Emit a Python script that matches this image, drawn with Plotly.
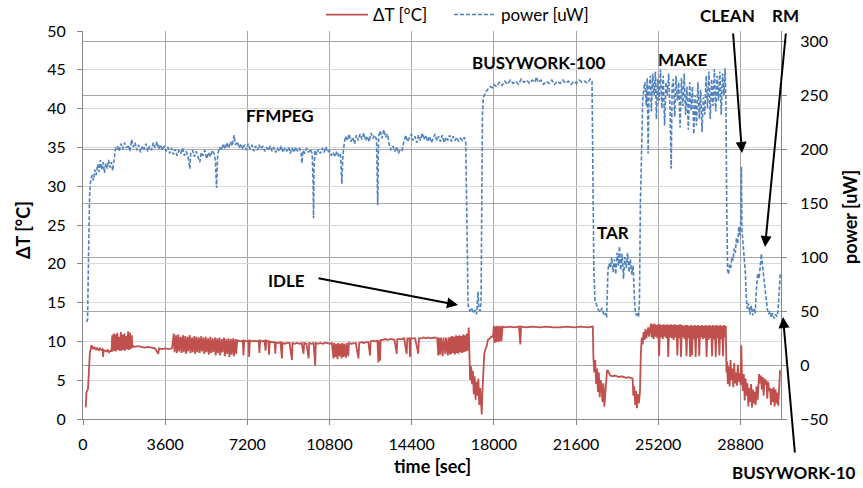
import plotly.graph_objects as go

# ---------------- data (time [s], value) ----------------
# power [uW]  (right axis)
power_ffmpeg = [
    (150, 40), (200, 42), (250, 110), (290, 158), (340, 172), (400, 176), (460, 171), (520, 181),
    (580, 176), (640, 186), (700, 179), (760, 190), (820, 181), (880, 188), (940, 178), (1000, 187),
    (1060, 182), (1120, 190), (1180, 183), (1240, 188), (1300, 180), (1360, 189), (1420, 200), (1500, 203),
    (1580, 198), (1660, 205), (1740, 200), (1820, 206), (1900, 201), (1980, 204), (2060, 198), (2130, 209),
    (2200, 202), (2280, 206), (2360, 199), (2440, 204), (2520, 197), (2600, 203), (2680, 200), (2760, 205),
    (2840, 198), (2920, 203), (3000, 199), (3080, 206), (3160, 201), (3240, 207), (3320, 200), (3400, 204),
    (3480, 199), (3560, 203), (3640, 198), (3720, 202), (3800, 196), (3880, 201), (3960, 195), (4040, 200),
    (4120, 194), (4200, 199), (4280, 196), (4360, 201), (4440, 194), (4520, 198), (4600, 193), (4680, 182),
    (4720, 196), (4800, 199), (4880, 193), (4960, 198), (5040, 192), (5120, 188), (5180, 197), (5260, 194),
    (5340, 199), (5420, 191), (5500, 197), (5580, 193), (5660, 199), (5740, 196), (5800, 190), (5850, 164),
    (5900, 195), (5980, 202), (6060, 199), (6140, 205), (6220, 200), (6300, 206), (6380, 201), (6460, 207),
    (6540, 203), (6620, 213), (6680, 204), (6760, 207), (6840, 201), (6920, 205), (7000, 200), (7080, 204),
    (7160, 199), (7240, 205), (7320, 200), (7400, 204), (7480, 198), (7560, 203), (7640, 199), (7720, 204),
    (7800, 200), (7880, 203), (7960, 198), (8040, 202), (8120, 199), (8200, 203), (8280, 198), (8360, 202),
    (8440, 197), (8520, 201), (8600, 198), (8680, 203), (8760, 197), (8840, 201), (8920, 198), (9000, 202),
    (9080, 196), (9160, 201), (9240, 197), (9320, 202), (9400, 198), (9480, 201), (9560, 196), (9590, 187),
    (9640, 199), (9720, 196), (9800, 201), (9880, 197), (9960, 200), (10040, 196), (10080, 170), (10100, 136),
    (10120, 180), (10160, 199), (10240, 195), (10320, 200), (10400, 196), (10480, 201), (10560, 197), (10640, 202),
    (10720, 197), (10800, 199), (10880, 194), (10960, 197), (11040, 193), (11120, 198), (11200, 194), (11280, 196),
    (11340, 168), (11390, 195), (11450, 206), (11500, 212), (11580, 208), (11660, 214), (11740, 207), (11820, 211),
    (11900, 205), (11980, 213), (12060, 208), (12140, 214), (12220, 209), (12300, 215), (12380, 208), (12460, 212),
    (12540, 207), (12620, 215), (12700, 210), (12780, 213), (12860, 209), (12910, 148), (12950, 212), (13020, 217),
    (13100, 210), (13180, 218), (13260, 211), (13340, 214), (13420, 204), (13500, 199), (13580, 203), (13660, 198),
    (13740, 202), (13820, 196), (13900, 200), (13980, 199), (14060, 207), (14140, 213), (14220, 207), (14300, 211),
    (14380, 214), (14460, 208), (14540, 212), (14620, 206), (14700, 213), (14780, 208), (14860, 215), (14940, 209),
    (15020, 213), (15100, 207), (15180, 212), (15260, 206), (15340, 210), (15420, 214), (15500, 208), (15580, 212),
    (15660, 207), (15740, 213), (15820, 206), (15900, 211), (15980, 208), (16060, 213), (16140, 207), (16220, 212),
    (16300, 208), (16380, 211), (16460, 207), (16540, 210), (16620, 208), (16700, 211), (16770, 206),
]
power_idle1 = [
    (16800, 160), (16830, 90), (16870, 56), (16940, 50), (17020, 53), (17100, 48), (17180, 51), (17240, 47),
    (17280, 58), (17310, 68), (17340, 52), (17400, 50), (17440, 60),
]
power_busywork100 = [
    (17470, 140), (17500, 232), (17540, 248), (17600, 251), (17680, 254), (17760, 256), (17840, 258), (17920, 257),
    (18000, 260), (18120, 258), (18240, 262), (18360, 259), (18480, 263), (18600, 260), (18720, 264), (18840, 261),
    (18960, 263), (19080, 260), (19200, 265), (19320, 262), (19440, 264), (19560, 261), (19680, 264), (19800, 262),
    (19860, 267), (19940, 262), (20060, 264), (20180, 260), (20300, 263), (20420, 261), (20540, 264), (20660, 260),
    (20780, 263), (20900, 261), (21020, 264), (21140, 261), (21260, 263), (21380, 260), (21500, 263), (21620, 261),
    (21740, 264), (21860, 262), (21980, 263), (22100, 261), (22220, 265), (22300, 263),
]
power_tar = [
    (22340, 180), (22380, 90), (22430, 60), (22500, 55), (22580, 51), (22660, 49), (22740, 53), (22820, 46),
    (22900, 48), (22940, 44), (22970, 70), (23000, 88), (23040, 94), (23100, 90), (23160, 100), (23220, 86),
    (23280, 98), (23340, 84), (23400, 104), (23460, 92), (23500, 110), (23560, 88), (23620, 103), (23680, 80),
    (23740, 100), (23800, 90), (23860, 104), (23920, 86), (23980, 98), (24040, 84), (24100, 92), (24140, 75),
    (24180, 52), (24230, 46), (24290, 49), (24340, 44),
]
power_make = [
    (24380, 60), (24420, 150), (24460, 205), (24520, 245), (24580, 258), (24620, 262), (24680, 240), (24720, 266),
    (24760, 196), (24800, 258), (24860, 268), (24900, 235), (24960, 270), (25020, 250), (25080, 272), (25120, 228),
    (25180, 265), (25240, 245), (25300, 274), (25360, 238), (25420, 268), (25480, 222), (25540, 262), (25600, 250),
    (25660, 270), (25720, 236), (25770, 182), (25810, 258), (25860, 265), (25920, 230), (25980, 268), (26040, 245),
    (26100, 262), (26160, 220), (26220, 266), (26280, 240), (26340, 270), (26400, 232), (26460, 258), (26520, 218),
    (26580, 262), (26640, 236), (26700, 258), (26760, 214), (26820, 250), (26880, 222), (26940, 262), (27000, 228),
    (27060, 255), (27120, 216), (27180, 248), (27240, 232), (27300, 268), (27360, 238), (27420, 272), (27480, 228),
    (27540, 265), (27600, 240), (27660, 274), (27720, 235), (27780, 268), (27840, 245), (27900, 272), (27960, 232),
    (28020, 270), (28080, 250), (28130, 275),
]
power_clean_rm_bw10 = [
    (28170, 240), (28200, 150), (28240, 88), (28280, 84), (28330, 93), (28380, 90), (28430, 100), (28480, 97),
    (28530, 108), (28580, 104), (28630, 118), (28680, 112), (28730, 128), (28780, 120), (28820, 135), (28845, 184),
    (28870, 125), (28920, 112), (28970, 100), (29020, 85), (29060, 62), (29100, 52), (29160, 57), (29220, 47),
    (29280, 55), (29340, 46), (29400, 52), (29450, 48), (29500, 70), (29560, 85), (29620, 80), (29680, 98),
    (29720, 103), (29770, 92), (29820, 82), (29870, 72), (29920, 60), (29980, 52), (30040, 47), (30100, 50),
    (30160, 44), (30220, 48), (30280, 43), (30340, 47), (30400, 45), (30450, 50), (30500, 68), (30550, 85),
]

# delta T [degC]  (left axis)
dT_ffmpeg_a = [
    (120, 1.5), (150, 3.4), (220, 3.9), (260, 6.5), (300, 8.5), (370, 9.5), (440, 9.0), (500, 9.3),
    (560, 8.9), (620, 9.2), (680, 8.8), (740, 9.1), (800, 8.9), (860, 9.0), (880, 8.0), (900, 8.9),
    (960, 8.8), (1020, 8.7), (1080, 8.9), (1140, 8.6), (1200, 8.8), (1250, 8.7), (1280, 10.8), (1300, 8.7),
    (1340, 11.0), (1360, 8.8), (1420, 10.9), (1440, 8.7), (1500, 11.1), (1520, 8.9), (1580, 10.6), (1600, 8.8),
    (1660, 11.2), (1680, 8.8), (1740, 10.9), (1760, 8.9), (1820, 11.0), (1840, 8.8), (1900, 10.7), (1920, 9.0),
    (1980, 11.3), (2000, 8.9), (2060, 11.1), (2080, 9.0), (2140, 10.8), (2160, 9.2), (2200, 9.4), (2260, 9.3),
    (2400, 9.4), (2550, 9.3), (2700, 9.2), (2850, 9.3), (3000, 9.2), (3150, 9.1), (3300, 8.4), (3330, 9.1),
    (3450, 9.0), (3600, 9.1), (3750, 9.0), (3900, 9.1),
]
dT_ffmpeg_b = [
    (3980, 11.0), (4010, 8.6), (4080, 10.8), (4110, 8.5), (4180, 10.9), (4210, 8.7), (4280, 10.6), (4310, 8.5),
    (4380, 10.8), (4410, 8.6), (4480, 10.7), (4510, 8.4), (4580, 10.6), (4610, 8.7), (4680, 10.8), (4710, 8.5),
    (4780, 10.5), (4810, 8.6), (4880, 10.7), (4910, 8.4), (4980, 10.6), (5010, 8.6), (5080, 10.5), (5110, 8.5),
    (5180, 10.7), (5210, 8.7), (5280, 10.5), (5310, 8.4), (5380, 10.6), (5410, 8.6), (5480, 10.4), (5510, 8.3),
    (5580, 10.6), (5610, 8.5), (5680, 10.4), (5710, 8.6), (5780, 10.5), (5810, 8.2), (5880, 10.4), (5910, 8.5),
    (5980, 10.5), (6010, 8.2), (6080, 10.3), (6110, 8.6), (6180, 10.5), (6210, 8.1), (6280, 10.3), (6310, 8.4),
    (6380, 10.4), (6410, 8.0), (6480, 10.3), (6510, 8.3), (6580, 10.4), (6610, 8.1), (6680, 10.3), (6710, 8.4),
    (6760, 10.2),
]
dT_ffmpeg_c = [
    (6800, 10.1), (6900, 10.0), (7000, 10.1), (7030, 8.2), (7060, 10.1), (7150, 10.0), (7250, 10.1), (7280, 8.0),
    (7310, 10.1), (7400, 10.0), (7500, 10.1), (7600, 10.0), (7700, 10.1), (7730, 8.5), (7760, 10.1), (7850, 10.0),
    (7950, 10.1), (8000, 8.8), (8030, 10.1), (8120, 10.0), (8150, 8.3), (8180, 10.0), (8280, 9.9), (8400, 9.9),
    (8425, 8.4), (8450, 9.8), (8550, 9.8), (8650, 9.9), (8716, 7.8), (8740, 9.8), (8850, 9.7), (8950, 9.8),
    (9050, 9.8), (9154, 7.6), (9180, 9.8), (9280, 9.7), (9380, 9.8), (9480, 9.7), (9580, 9.8), (9664, 8.4),
    (9690, 9.8), (9790, 9.7), (9882, 7.8), (9910, 9.8), (10000, 9.7), (10100, 9.8), (10173, 6.9), (10200, 9.8),
    (10300, 9.7), (10400, 9.8), (10500, 9.7), (10600, 9.8), (10700, 9.8), (10800, 9.7), (10900, 9.8), (10975, 7.8),
    (11000, 9.8), (11060, 8.0), (11090, 9.7), (11150, 7.7), (11180, 9.8), (11240, 8.1), (11270, 9.7), (11330, 7.8),
    (11360, 9.8), (11420, 8.0), (11450, 9.7), (11520, 7.9), (11550, 9.8), (11620, 8.1), (11650, 9.8), (11750, 9.7),
    (11850, 9.8), (11950, 9.8), (12068, 7.8), (12100, 9.8), (12200, 9.9), (12300, 9.8), (12400, 9.9), (12500, 9.9),
    (12578, 8.2), (12600, 10.0), (12700, 10.1), (12800, 10.0), (12900, 10.1), (12940, 7.3), (12970, 10.1), (13015, 7.5),
    (13040, 10.2), (13150, 10.2), (13250, 10.3), (13350, 10.2), (13450, 10.3), (13550, 10.3), (13650, 10.2), (13743, 8.4),
    (13770, 10.3), (13870, 10.3), (13970, 10.3), (14070, 10.4), (14180, 8.4), (14210, 10.4), (14300, 10.4), (14326, 8.0),
    (14350, 10.4), (14450, 10.4), (14550, 10.4), (14690, 8.4), (14720, 10.4), (14820, 10.4), (14920, 10.5), (15020, 10.4),
    (15120, 10.5), (15220, 10.4), (15320, 10.5), (15420, 10.5), (15520, 10.4), (15564, 8.2), (15590, 10.5), (15650, 8.3),
    (15680, 10.5), (15760, 8.1), (15790, 10.5), (15870, 8.4), (15900, 10.5), (15980, 8.2), (16010, 10.5), (16074, 8.3),
    (16100, 10.6), (16130, 8.4), (16180, 10.7), (16210, 8.5), (16260, 10.6), (16290, 8.3), (16340, 10.8), (16370, 8.5),
    (16420, 10.7), (16450, 8.4), (16500, 10.8), (16530, 8.6), (16580, 10.7), (16610, 8.5), (16660, 10.9), (16690, 8.6),
    (16740, 10.8), (16770, 8.7), (16820, 11.0), (16850, 8.8), (16900, 11.8),
]
dT_idle1 = [
    (16930, 7.5), (16960, 5.0), (17000, 6.8), (17040, 4.5), (17080, 6.2), (17120, 3.2), (17160, 5.5), (17200, 2.5),
    (17240, 4.8), (17280, 3.0), (17320, 5.2), (17360, 1.8), (17400, 4.0), (17440, 1.0), (17470, 0.6), (17500, 3.5),
    (17540, 6.8), (17580, 8.4), (17620, 8.9), (17680, 9.3), (17740, 10.2), (17800, 10.3), (17880, 10.6), (17960, 10.6),
]
dT_busywork100 = [
    (18000, 12.0), (18030, 9.8), (18060, 11.9), (18090, 9.9), (18120, 12.0), (18150, 10.0), (18180, 11.9), (18210, 9.9),
    (18240, 12.0), (18270, 10.1), (18300, 11.9), (18330, 10.0), (18380, 11.9), (18500, 11.8), (18700, 11.9), (18900, 11.8),
    (19100, 11.9), (19160, 9.6), (19190, 11.9), (19400, 11.8), (19700, 11.9), (20000, 11.8), (20300, 11.9), (20600, 11.8),
    (20900, 11.8), (21200, 11.9), (21500, 11.8), (21800, 11.9), (22100, 11.8), (22300, 11.9), (22336, 11.9),
]
dT_tar = [
    (22360, 8.0), (22400, 6.0), (22440, 7.6), (22480, 4.5), (22520, 6.5), (22560, 3.5), (22600, 6.0), (22640, 2.8),
    (22680, 5.0), (22720, 4.2), (22760, 2.2), (22800, 4.6), (22840, 1.6), (22880, 3.0), (22920, 4.5), (22960, 6.3),
    (23000, 6.2), (23100, 5.6), (23200, 5.5), (23300, 5.6), (23400, 5.5), (23500, 5.4), (23600, 5.5), (23700, 5.4),
    (23800, 5.3), (23900, 5.4), (24000, 5.3), (24080, 5.2), (24110, 3.0), (24150, 4.2), (24190, 1.8), (24230, 3.6),
    (24270, 1.4), (24310, 3.2), (24350, 2.0), (24400, 3.4),
]
dT_make = [
    (24440, 8.5), (24480, 10.5), (24520, 9.6), (24560, 11.2), (24600, 10.2), (24640, 11.6), (24680, 10.4), (24720, 11.0),
    (24760, 11.8), (24800, 10.6), (24840, 11.5), (24880, 12.3), (24920, 10.5), (24960, 12.2), (25000, 10.3), (25040, 12.3),
    (25080, 10.6), (25120, 12.1), (25160, 10.4), (25200, 12.2), (25240, 8.1), (25280, 12.2), (25320, 10.5), (25360, 12.1),
    (25400, 10.3), (25440, 12.2), (25480, 10.6), (25520, 12.1), (25560, 10.4), (25600, 12.2), (25640, 8.0), (25680, 12.1),
    (25720, 10.5), (25760, 12.2), (25800, 10.4), (25840, 12.1), (25880, 10.2), (25920, 12.2), (25960, 10.5), (26000, 12.1),
    (26040, 8.2), (26080, 12.1), (26120, 10.4), (26160, 12.2), (26200, 8.0), (26240, 12.1), (26280, 10.5), (26320, 12.0),
    (26360, 10.3), (26400, 12.1), (26440, 8.1), (26480, 12.1), (26520, 10.4), (26560, 12.0), (26600, 8.0), (26640, 12.1),
    (26680, 8.2), (26720, 12.0), (26760, 10.3), (26800, 12.1), (26840, 8.0), (26880, 12.0), (26920, 10.4), (26960, 12.1),
    (27000, 8.1), (27040, 12.0), (27080, 10.5), (27120, 12.1), (27160, 10.3), (27200, 12.0), (27240, 10.4), (27280, 12.1),
    (27320, 8.0), (27360, 12.0), (27400, 10.2), (27440, 12.1), (27480, 10.4), (27520, 12.0), (27560, 8.1), (27600, 12.1),
    (27640, 10.3), (27680, 12.0), (27720, 8.0), (27760, 12.1), (27800, 10.4), (27840, 12.0), (27880, 8.2), (27920, 12.1),
    (27960, 10.3), (28000, 12.0), (28040, 8.1), (28080, 12.1), (28120, 10.5), (28160, 12.0),
]
dT_clean_rm_bw10 = [
    (28190, 6.0), (28220, 7.4), (28250, 4.5), (28290, 6.8), (28330, 4.2), (28370, 7.6), (28410, 5.0), (28450, 6.5),
    (28490, 4.1), (28530, 7.2), (28570, 4.6), (28610, 6.0), (28650, 4.3), (28690, 7.0), (28730, 4.8), (28770, 5.9),
    (28810, 4.4), (28840, 9.5), (28870, 5.5), (28910, 3.6), (28950, 5.8), (28990, 2.4), (29030, 5.2), (29070, 3.0),
    (29110, 4.6), (29150, 1.6), (29190, 4.0), (29230, 2.2), (29270, 4.5), (29310, 1.5), (29350, 3.8), (29390, 2.0),
    (29430, 3.5), (29470, 1.8), (29510, 4.2), (29560, 2.5), (29620, 5.8), (29660, 4.6), (29700, 5.6), (29740, 3.8),
    (29780, 5.4), (29820, 3.0), (29860, 5.2), (29900, 4.4), (29940, 5.0), (29980, 2.6), (30020, 4.8), (30060, 3.6),
    (30100, 4.0), (30140, 1.8), (30180, 3.9), (30220, 2.2), (30260, 4.1), (30300, 1.6), (30340, 3.8), (30380, 2.0),
    (30420, 3.4), (30460, 1.7), (30500, 4.0), (30540, 6.3),
]

x_ticks = [0, 3600, 7200, 10800, 14400, 18000, 21600, 25200, 28800]
left_ticks = [0, 5, 10, 15, 20, 25, 30, 35, 40, 45, 50]
right_ticks = [-50, 0, 50, 100, 150, 200, 250, 300]

labels = [  # text, pixel x, pixel y (centre)
    ("FFMPEG", 280, 115), ("BUSYWORK-100", 538, 62), ("MAKE", 683, 60), ("CLEAN", 727, 16),
    ("RM", 785, 16), ("TAR", 613, 233), ("IDLE", 286, 280), ("BUSYWORK-10", 794, 472),
]
arrows = [  # tail (x, y) -> head (x, y) in pixels
    ((317, 278), (458, 305)),
    ((733, 32), (742, 153)),
    ((786, 32), (765, 247)),
    ((795, 454), (783, 317)),
]

# ---------------- figure ----------------
W, H = 863, 488
L, R, T, B = 83, 82, 31, 69
PW, PH = W - L - R, H - T - B


def px2paper(px, py):
    return (px - L) / PW, (H - B - py) / PH


pow_all = power_ffmpeg + power_idle1 + power_busywork100 + power_tar + power_make + power_clean_rm_bw10
dT_all = dT_ffmpeg_a + dT_ffmpeg_b + dT_ffmpeg_c + dT_idle1 + dT_busywork100 + dT_tar + dT_make + dT_clean_rm_bw10

FONT = "Lato, 'Open Sans', sans-serif"
GRID_DARK = "#a6a6a6"
GRID_LIGHT = "#d9d9d9"
AXIS = "#868686"

fig = go.Figure()
fig.add_trace(go.Scatter(
    x=[p[0] for p in dT_all], y=[p[1] for p in dT_all], name="ΔT [°C]", mode="lines",
    line=dict(color="#C0504D", width=1.8), yaxis="y", legend="legend"))
fig.add_trace(go.Scatter(
    x=[p[0] for p in pow_all], y=[p[1] for p in pow_all], name="power [uW]", mode="lines",
    line=dict(color="#4F81BD", width=1.6, dash="4px,2px"), yaxis="y2", legend="legend2"))

leg_common = dict(orientation="h", xanchor="left", yanchor="middle", font=dict(size=17, family=FONT),
                  bgcolor="rgba(0,0,0,0)", itemwidth=42, borderwidth=0)
lx1, ly = px2paper(321, 15)
lx2, _ = px2paper(449, 15)

fig.update_layout(
    width=W, height=H, margin=dict(l=L, r=R, t=T, b=B, pad=0, autoexpand=False),
    paper_bgcolor="white", plot_bgcolor="white",
    font=dict(family=FONT, size=16, color="#000000"),
    showlegend=True,
    legend=dict(x=lx1, y=ly, **leg_common),
    legend2=dict(x=lx2, y=ly, **leg_common),
    xaxis=dict(range=[0, 30580], tickvals=x_ticks, tickformat="d", showgrid=True, gridcolor=GRID_DARK,
               gridwidth=1, showline=True, linecolor=AXIS, linewidth=1, ticks="outside", ticklen=5,
               tickcolor=AXIS, zeroline=False, tickfont=dict(size=16), ticklabelstandoff=6,
               automargin=False),
    yaxis=dict(range=[0, 50], tickvals=left_ticks, showgrid=True, gridcolor=GRID_LIGHT, gridwidth=1,
               showline=True, linecolor=AXIS, linewidth=1, ticks="outside", ticklen=5, tickcolor=AXIS,
               zeroline=False, tickfont=dict(size=16), ticklabelstandoff=8, automargin=False),
    yaxis2=dict(range=[-50, 309.5], tickvals=right_ticks, overlaying="y", side="right",
                showgrid=True, gridcolor=GRID_DARK, gridwidth=1,
                showline=True, linecolor=AXIS, linewidth=1, ticks="outside", ticklen=5, tickcolor=AXIS,
                zeroline=False, tickfont=dict(size=16), ticklabelstandoff=10, automargin=False),
)

ann = []
for text, px, py in labels:
    xp, yp = px2paper(px, py)
    ann.append(dict(text=f"<b>{text}</b>", x=xp, y=yp, xref="paper", yref="paper",
                    xanchor="center", yanchor="middle", showarrow=False,
                    font=dict(family=FONT, size=17, color="#000000")))
for (tx, ty), (hx, hy) in arrows:
    xp, yp = px2paper(hx, hy)
    ann.append(dict(text="", x=xp, y=yp, xref="paper", yref="paper", showarrow=True,
                    ax=tx - hx, ay=ty - hy, axref="pixel", ayref="pixel",
                    arrowhead=2, arrowsize=1.1, arrowwidth=2, arrowcolor="#000000",
                    standoff=0, startstandoff=0))
# axis titles
for text, px, py in [("ΔT [°C]", 23, 230), ("power [uW]", 850, 217)]:
    xp, yp = px2paper(px, py)
    ann.append(dict(text=f"<b>{text}</b>", x=xp, y=yp, xref="paper", yref="paper", textangle=-90,
                    xanchor="center", yanchor="middle", showarrow=False,
                    font=dict(family=FONT, size=18, color="#000000")))
xp, yp = px2paper(432, 466)
ann.append(dict(text="<b>time [sec]</b>", x=xp, y=yp, xref="paper", yref="paper",
                xanchor="center", yanchor="middle", showarrow=False,
                font=dict(family=FONT, size=18, color="#000000")))
fig.update_layout(annotations=ann)

fig.write_html("out.html")
